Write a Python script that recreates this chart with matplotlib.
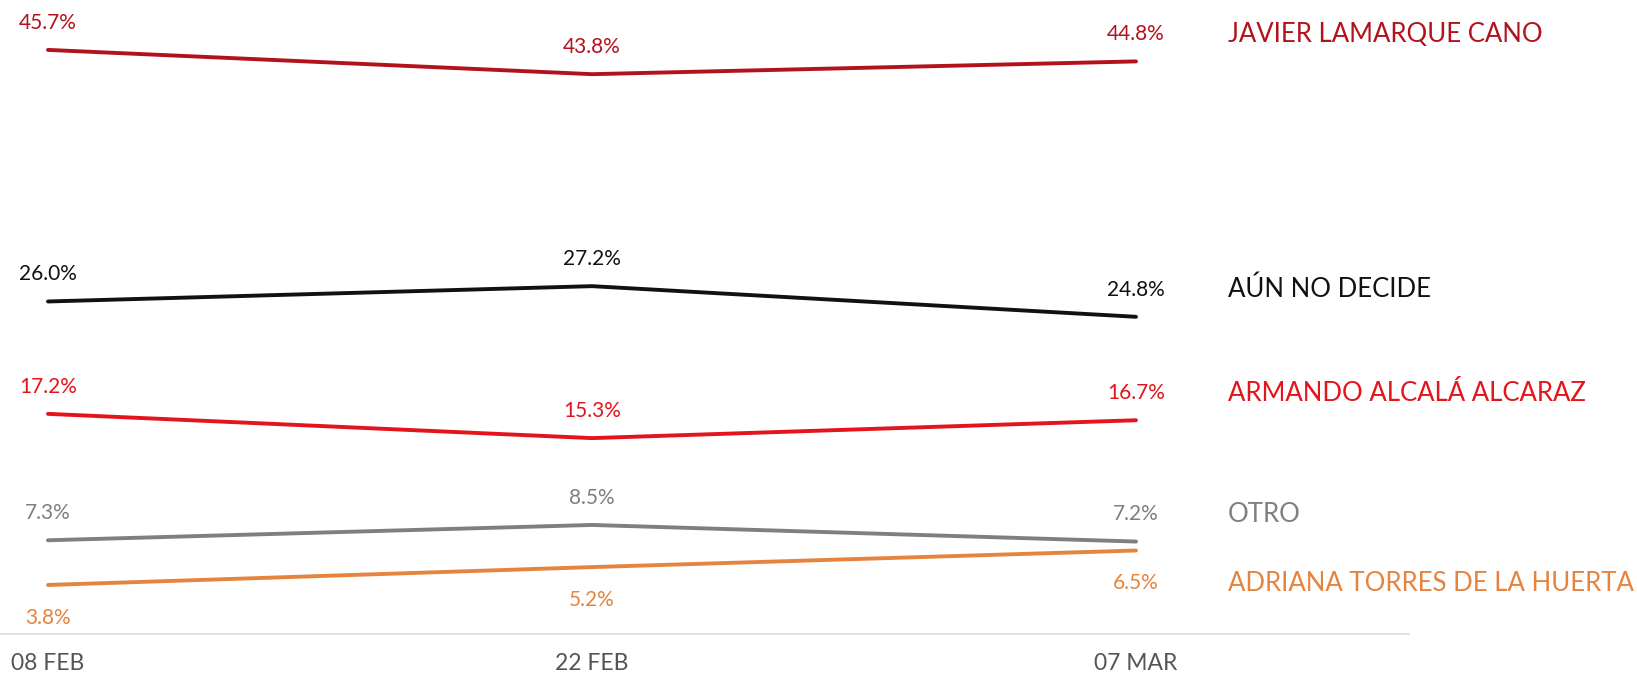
import matplotlib
matplotlib.use("Agg")
import matplotlib.pyplot as plt

dates = ["08 FEB", "22 FEB", "07 MAR"]
names = ["JAVIER LAMARQUE CANO", "AÚN NO DECIDE", "ARMANDO ALCALÁ ALCARAZ", "OTRO", "ADRIANA TORRES DE LA HUERTA"]
javier = [45.7, 43.8, 44.8]
aun = [26.0, 27.2, 24.8]
armando = [17.2, 15.3, 16.7]
otro = [7.3, 8.5, 7.2]
adriana = [3.8, 5.2, 6.5]
series = [javier, aun, armando, otro, adriana]
colors = ["#B3121C", "#111111", "#E3141B", "#7F7F7F", "#E5843F"]
# label placement: +1 above, -1 below for each point
positions = [
    [1, 1, 1],
    [1, 1, 1],
    [1, 1, 1],
    [1, 1, 1],
    [-1, -1, -1],
]

plt.rcParams['font.family'] = ['Lato', 'DejaVu Sans']

fig = plt.figure(figsize=(16.37, 6.76), dpi=100)
W, H = 1637, 676
ax = fig.add_axes([0, (H - 633.5) / H, 1409 / W, 633.5 / H])
x = list(range(len(dates)))
ax.set_xlim(-48 / 544, (1409 - 48) / 544)
ax.set_ylim(0, 633.5 / 12.77)

for vals, col, pos, name in zip(series, colors, positions, names):
    ax.plot(x, vals, color=col, lw=2.8, solid_capstyle='round', zorder=3)
    for xi, v, p in zip(x, vals, pos):
        off = 19.5 if p > 0 else -23.5
        ax.annotate(f"{v:.1f}%", (xi, v), xytext=(0, off), textcoords='offset points',
                    ha='center', va='center', fontsize=15, color=col)
    p = pos[-1]
    off = 19.5 if p > 0 else -23.5
    ax.annotate(name, (x[-1], vals[-1]), xytext=(66, off), textcoords='offset points',
                ha='left', va='center', fontsize=18.5, color=col, annotation_clip=False)

for s in ['top', 'right', 'left']:
    ax.spines[s].set_visible(False)
ax.spines['bottom'].set_color('#DDDDDD')
ax.spines['bottom'].set_linewidth(1.2)
ax.set_yticks([])
ax.set_xticks(x)
ax.set_xticklabels(dates, fontsize=16.5, color='#555555')
ax.tick_params(axis='x', length=0, pad=14)

fig.savefig("out.png", dpi=100, facecolor='white')
